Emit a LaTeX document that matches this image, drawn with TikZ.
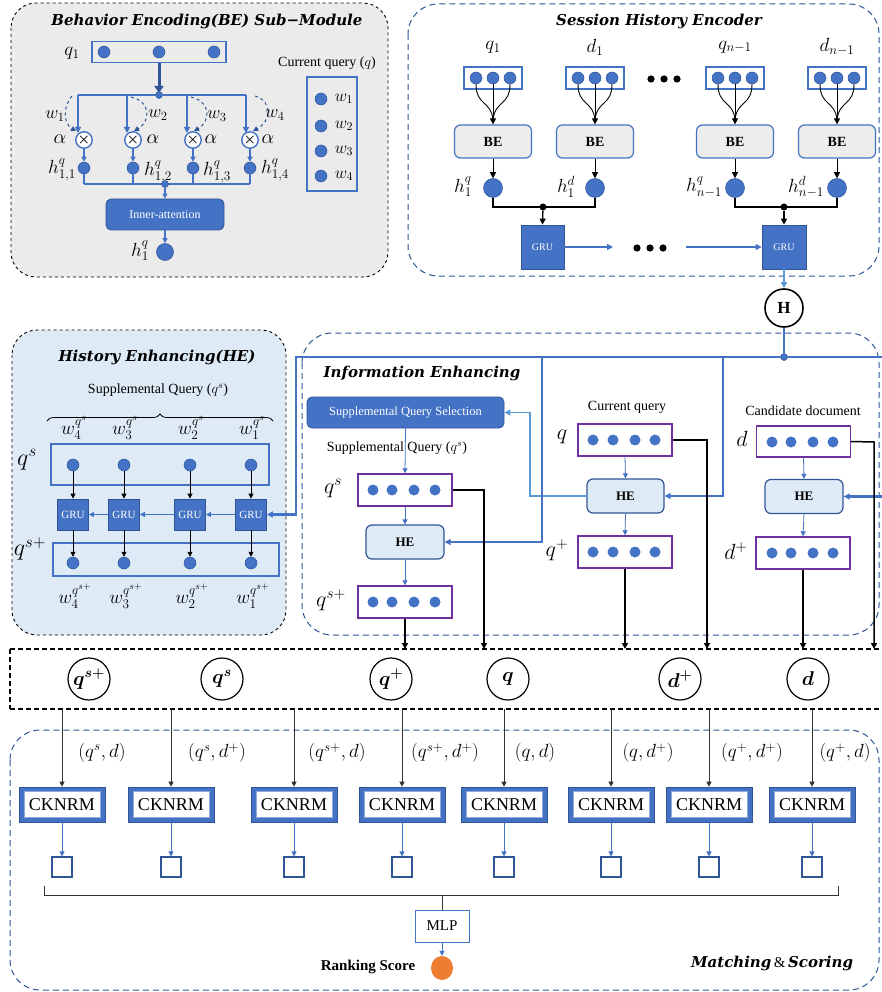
\RequirePackage{fix-cm}
\documentclass[tikz,border=0pt]{standalone}
\usepackage{amsmath,bm}
\usepackage{fontspec}
\setmainfont{Liberation Serif}
\newfontfamily\titlefont{DejaVu Serif}
\usetikzlibrary{arrows.meta,decorations.pathreplacing,shapes.geometric}
\definecolor{myblue}{HTML}{4472C4}
\definecolor{darkblue}{HTML}{2F5597}
\definecolor{lightarr}{HTML}{5B9BD5}
\definecolor{mypurple}{HTML}{7030A0}
\definecolor{bggray}{HTML}{EBEBEB}
\definecolor{helight}{HTML}{DEEBF7}
\definecolor{begray}{HTML}{EDEDED}
\definecolor{myorange}{HTML}{ED7D31}
\newcommand\fsz[1]{\fontsize{#1}{#1}\selectfont}
\tikzset{
  ttl/.style={font=\titlefont\bfseries\itshape\fsz{15}, inner sep=0pt},
  mlab/.style={font=\fsz{19}, inner sep=0pt},
  txt/.style={font=\fsz{14}, inner sep=0pt},
  bdot/.style={circle, fill=myblue, draw=darkblue, line width=0.5pt, inner sep=0pt, minimum size=#1},
  bdot/.default=12pt,
  pdot/.style={circle, fill=myblue, inner sep=0pt, minimum size=11pt},
  sdot/.style={circle, fill=myblue, draw=darkblue, line width=0.5pt, inner sep=0pt, minimum size=7pt},
  kdot/.style={circle, fill=black, inner sep=0pt, minimum size=7pt},
  arr/.style={-{Triangle[length=6pt,width=6pt]}},
  sarr/.style={-{Triangle[length=5pt,width=5pt]}},
  vbox/.style={draw=myblue, line width=1.4pt, inner sep=0pt},
  pbox/.style={draw=mypurple, line width=1.4pt, fill=white, inner sep=0pt, minimum width=94pt, minimum height=32pt},
  otimes/.style={circle, draw=myblue, fill=white, line width=1.4pt, minimum size=15pt, inner sep=0pt, font=\fsz{14}},
  fillbox/.style={fill=myblue, draw=darkblue, line width=0.8pt, text=white, inner sep=0pt},
  bebox/.style={fill=begray, draw=myblue, line width=1.2pt, rounded corners=6pt, minimum width=77pt, minimum height=33pt, font=\bfseries\fsz{14}, inner sep=0pt},
  hebox/.style={fill=helight, draw=darkblue, line width=1.2pt, rounded corners=6pt, minimum width=78pt, minimum height=34pt, font=\bfseries\fsz{13}, inner sep=0pt},
  ck/.style={fill=myblue, draw=darkblue, line width=0.6pt, minimum width=86pt, minimum height=35pt, inner sep=0pt},
  ckin/.style={fill=white, draw=myblue!60, line width=0.8pt, minimum width=76pt, minimum height=26pt, inner sep=0pt, font=\fsz{18}},
  sq/.style={draw=darkblue, line width=1.1pt, fill=white, minimum width=20pt, minimum height=20pt, inner sep=0pt},
  cir/.style={circle, draw=black, line width=1.2pt, minimum size=42pt, inner sep=0pt, font=\fsz{20}},
  bdash/.style={dashed, draw=darkblue, line width=1pt, dash pattern=on 6pt off 4pt},
}
\begin{document}
\begin{tikzpicture}[x=1pt,y=-1pt]
\useasboundingbox (0,0) rectangle (881,992);
\fill[white] (0,0) rectangle (881,992);

% ================= BE sub-module =================
\draw[black, dashed, line width=0.9pt, fill=bggray, rounded corners=25pt] (11,3) rectangle (388,277);
\node[ttl] at (207,21) {Behavior Encoding(BE) Sub−Module};
\node[vbox, minimum width=134pt, minimum height=21pt] (beq) at (159,52) {};
\foreach \x/\n in {104/a,159/b,214/c} \node[bdot] (beq\n) at (\x,52) {};
\node[mlab] at (72,53) {$q_1$};
\draw[darkblue, line width=3pt, -{Triangle[length=7pt,width=9pt]}] (beq.south) -- (159,93);
\node[sdot] (bej) at (159,95) {};
\draw[myblue, line width=1.5pt] (78,95) -- (246,95);
\foreach \cx/\ax/\i in {84/78/1,133/127/2,193/187/3,250/246/4} {
  \node[otimes] (ot\i) at (\cx,140) {$\bm{\times}$};
  \draw[myblue, line width=1.5pt, arr] (\ax,95) -- (\ax,133);
  \node[bdot] (bh\i) at (\cx,168) {};
  \draw[myblue, line width=1.3pt, sarr] (ot\i.south) -- (bh\i.north);
  \draw[myblue, line width=1.3pt] (bh\i.south) -- (\cx,184);
}
\draw[darkblue, dashed, line width=1pt, sarr] (72,96) .. controls (62,108) and (64,124) .. (76,131);
\draw[darkblue, dashed, line width=1pt, sarr] (131,97) .. controls (152,102) and (150,122) .. (134,131);
\draw[darkblue, dashed, line width=1pt, sarr] (191,97) .. controls (212,102) and (210,122) .. (194,131);
\draw[darkblue, dashed, line width=1pt, sarr] (255,96) .. controls (274,102) and (270,122) .. (253,131);
\node[mlab, font=\fsz{18}] at (55,116) {$w_1$};
\node[mlab, font=\fsz{18}] at (158,115) {$w_2$};
\node[mlab, font=\fsz{18}] at (217,116) {$w_3$};
\node[mlab, font=\fsz{18}] at (275,115) {$w_4$};
\foreach \x in {60,153,211,268} \node[mlab, font=\fsz{20}] at (\x,139) {$\alpha$};
\node[mlab] at (62,170) {$h^q_{1,1}$};
\node[mlab] at (158,172) {$h^q_{1,2}$};
\node[mlab] at (217,172) {$h^q_{1,3}$};
\node[mlab] at (275,170) {$h^q_{1,4}$};
\draw[myblue, line width=1.3pt] (84,184) -- (250,184);
\node[sdot] (bej2) at (165,184) {};
\node[fillbox, rounded corners=5pt, minimum width=118pt, minimum height=31pt, font=\fsz{12}] (ia) at (165,214.5) {Inner-attention};
\draw[myblue, line width=1.3pt, sarr] (bej2) -- (ia.north);
\node[bdot=17pt] (bh) at (165,252) {};
\draw[myblue, line width=1.3pt, sarr] (ia.south) -- (bh.north);
\node[mlab] at (140,251) {$h^q_1$};
\node[txt] at (327,63) {Current query ($q$)};
\node[vbox, minimum width=50pt, minimum height=114pt] (cq) at (332,134) {};
\foreach \y/\i in {99/1,126/2,151/3,176/4} {
  \node[bdot] at (321,\y) {};
  \node[mlab, font=\fsz{17}] at (344,\y) {$w_\i$};
}

% ================= Session History Encoder =================
\draw[bdash, rounded corners=30pt] (408,4) rectangle (879,276);
\node[ttl] at (659,21) {Session History Encoder};
\foreach \cx/\lab/\hl/\hx/\i in {493/{q_1}/{h^q_1}/463/1, 595/{d_1}/{h^d_1}/566/2, 735/{q_{n-1}}/{h^q_{n-1}}/704/3, 837/{d_{n-1}}/{h^d_{n-1}}/806/4} {
  \node[mlab] at (\cx,47) {$\lab$};
  \node[vbox, minimum width=58pt, minimum height=22pt] (sv\i) at (\cx,78) {};
  \foreach \d in {-17,0,17} \node[bdot] at (\cx+\d,78) {};
  \node[bebox] (be\i) at (\cx,141.5) {BE};
  \draw[black, line width=0.9pt] (\cx-17,84) .. controls (\cx-17,106) and (\cx-2,100) .. (\cx,120);
  \draw[black, line width=0.9pt] (\cx+17,84) .. controls (\cx+17,106) and (\cx+2,100) .. (\cx,120);
  \draw[black, line width=0.9pt, arr] (\cx,84) -- (be\i.north);
  \node[bdot=19pt] (sh\i) at (\cx,188) {};
  \draw[black, line width=0.9pt, arr] (be\i.south) -- (sh\i.north);
  \node[mlab] at (\hx,187) {$\hl$};
}
\foreach \x in {651,664,677} \fill (\x,79) circle (3.6pt);
\draw[black, line width=1.3pt] (sh1.south) -- (493,207) -- (595,207) -- (sh2.south);
\draw[black, line width=1.3pt] (sh3.south) -- (735,207) -- (837,207) -- (sh4.south);
\node[kdot] (sj1) at (543,207) {};
\node[kdot] (sj2) at (784,207) {};
\node[fillbox, minimum width=43pt, minimum height=44pt, font=\fsz{10}] (gru1) at (542.5,247) {GRU};
\node[fillbox, minimum width=44pt, minimum height=44pt, font=\fsz{10}] (gru2) at (784,247) {GRU};
\draw[black, line width=1.3pt, arr] (sj1) -- (gru1.north);
\draw[black, line width=1.3pt, arr] (sj2) -- (gru2.north);
\coordinate (ga) at (613,247);
\coordinate (gb) at (686,247);
\draw[myblue, line width=1.3pt, arr] (gru1.east) -- (ga);
\draw[myblue, line width=1.3pt, arr] (gb) -- (gru2.west);
\foreach \x in {637,650,663} \fill (\x,248) circle (3.6pt);
\node[circle, draw=black, line width=1.6pt, minimum size=38pt, inner sep=0pt, font=\bfseries\fsz{17}] (H) at (784,308) {H};
\draw[lightarr, line width=1.5pt, arr] (gru2.south) -- (H.north);

% ================= Information Enhancing =================
\draw[bdash, rounded corners=30pt] (302,333) rectangle (879,635);
\node[ttl] at (422,373) {Information Enhancing};
\node[fillbox, rounded corners=5pt, minimum width=197pt, minimum height=31pt, font=\fsz{12.5}] (sqs) at (405.5,412.5) {Supplemental Query Selection};
\node[txt] at (397,448) {Supplemental Query ($q^s$)};
% q^s column
\node[pbox] (iqs) at (405,490) {};
\foreach \x in {373,392,414,435} \node[pdot] at (\x,490) {};
\node[mlab, font=\fsz{22}] at (333,488) {$q^s$};
\node[hebox] (he1) at (405,542) {HE};
\node[pbox] (iqsp) at (405,602) {};
\foreach \x in {373,392,414,435} \node[pdot] at (\x,602) {};
\node[mlab, font=\fsz{22}] at (331,600) {$q^{s+}$};
\draw[myblue, line width=0.8pt, sarr] (sqs.south) -- (iqs.north);
\draw[myblue, line width=0.8pt, sarr] (iqs.south) -- (he1.north);
\draw[myblue, line width=0.8pt, sarr] (he1.south) -- (iqsp.north);
% current query column
\node[txt] at (627,407) {Current query};
\node[pbox] (iq) at (625,440) {};
\foreach \x in {593,613,635,655} \node[pdot] at (\x,440) {};
\node[mlab, font=\fsz{22}] at (562,437) {$q$};
\node[hebox, minimum width=77pt] (he2) at (625.5,496) {HE};
\node[pbox] (iqp) at (625,552) {};
\foreach \x in {593,613,635,655} \node[pdot] at (\x,552) {};
\node[mlab, font=\fsz{22}] at (557,550) {$q^+$};
\draw[myblue, line width=0.8pt, sarr] (iq.south) -- (he2.north);
\draw[myblue, line width=0.8pt, sarr] (he2.south) -- (iqp.north);
% candidate doc column
\node[txt] at (803,411) {Candidate document};
\node[pbox, minimum height=31pt] (id) at (803.5,441.5) {};
\foreach \x in {772,791,813,833} \node[pdot] at (\x,442) {};
\node[mlab, font=\fsz{22}] at (742,439) {$d$};
\node[hebox] (he3) at (804,496.5) {HE};
\node[pbox] (idp) at (803,553) {};
\foreach \x in {772,791,813,833} \node[pdot] at (\x,553) {};
\node[mlab, font=\fsz{22}] at (736,551) {$d^+$};
\draw[myblue, line width=0.8pt, sarr] (id.south) -- (he3.north);
\draw[myblue, line width=0.8pt, sarr] (he3.south) -- (idp.north);
% light-blue loop to selection
\draw[lightarr, line width=1.3pt, arr] (he2.west) -- (530,496) -- (530,412.5) -- (sqs.east);

% ================= History Enhancing module =================
\draw[black, dashed, line width=0.9pt, fill=helight, rounded corners=25pt] (12,330) rectangle (286,635);
\node[ttl] at (157,357) {History Enhancing(HE)};
\node[txt] at (158,390) {Supplemental Query ($q^s$)};
\draw[black, line width=0.8pt, decorate, decoration={brace, amplitude=7pt}] (47,421) -- (273,421);
\node[vbox, minimum width=218pt, minimum height=41pt] (hqs) at (160,464.5) {};
\node[vbox, minimum width=226pt, minimum height=33pt] (hqsp) at (166,559.5) {};
\node[mlab, font=\fsz{24}] at (27,460) {$q^s$};
\node[mlab, font=\fsz{24}] at (30,549) {$q^{s+}$};
\foreach \cx/\k/\i in {73/4/1,124/3/2,190/2/3,251/1/4} {
  \node[mlab, font=\fsz{19}] at (\cx+1,428) {$w_\k^{q^s}$};
  \node[mlab, font=\fsz{19}] at (\cx+2,596) {$w_\k^{q^{s+}}$};
  \node[bdot] (hd\i) at (\cx,465) {};
  \node[fillbox, minimum width=31pt, minimum height=31pt, font=\fsz{11}] (hg\i) at (\cx,514.5) {GRU};
  \node[bdot] (hdp\i) at (\cx,563) {};
  \draw[black, line width=0.8pt, sarr] (hd\i.south) -- (hg\i.north);
  \draw[black, line width=0.8pt, sarr] (hg\i.south) -- (hdp\i.north);
}
\draw[myblue, line width=1pt, sarr] (hg4.west) -- (hg3.east);
\draw[myblue, line width=1pt, sarr] (hg3.west) -- (hg2.east);
\draw[myblue, line width=1pt, sarr] (hg2.west) -- (hg1.east);

% ================= H distribution lines =================
\node[sdot] (hj) at (784,357) {};
\draw[myblue, line width=2.2pt] (H.south) -- (hj);
\draw[myblue, line width=2.2pt, arr] (hj.center) -- (296,357) -- (296,514.5) -- (hg4.east);
\draw[myblue, line width=2.2pt, arr] (542,357) -- (542,542) -- (he1.east);
\draw[myblue, line width=2.2pt, arr] (723,357) -- (723,496) -- (he2.east);
\draw[myblue, line width=2.2pt, arr] (hj.center) -- (890,357) -- (890,496.5) -- (he3.east);

% ================= collection row =================
\draw[black, line width=1.6pt, dash pattern=on 5pt off 3pt] (10,649) -- (895,649) (10,709) -- (895,709) (10,649) -- (10,709);
\foreach \x/\l/\n in {89/{q^{s+}}/c1, 222/{q^{s}}/c2, 391/{q^{+}}/c3, 508/q/c4, 680/{d^{+}}/c5, 808/d/c6}
  \node[cir] (\n) at (\x,679) {$\bm{\l}$};
\draw[black, line width=1.5pt, arr] (iqsp.south) -- (405,649);
\draw[black, line width=1.5pt, arr] (iqs.east) -- (484,490) -- (484,649);
\draw[black, line width=1.5pt, arr] (iqp.south) -- (625,649);
\draw[black, line width=1.5pt, arr] (iq.east) -- (707,440) -- (707,649);
\draw[black, line width=1.5pt, arr] (idp.south) -- (803,649);
\draw[black, line width=1.5pt, arr] (id.east) -- (874,442) -- (874,649);

% ================= Matching & Scoring =================
\draw[bdash, rounded corners=30pt] (10,730) rectangle (879,990);
\foreach \x/\lx/\lab/\i in {62/102/{(q^s,d)}/1, 171/217/{(q^s,d^+)}/2, 294/337/{(q^{s+},d)}/3, 402/445/{(q^{s+},d^+)}/4, 504/535/{(q,d)}/5, 611/648/{(q,d^+)}/6, 709/752/{(q^+,d^+\mathbf{)}}/7, 812/845/{(q^+,d)}/8} {
  \node[ck] (ck\i) at (\x,804.5) {};
  \node[ckin] at (\x,804.5) {CKNRM};
  \node[sq] (sq\i) at (\x,867) {};
  \coordinate (top\i) at (\x,709);
  \draw[black!80, line width=0.8pt, sarr] (top\i) -- (ck\i.north);
  \draw[myblue, line width=0.8pt, sarr] (ck\i.south) -- (sq\i.north);
  \node[mlab, font=\fsz{19}] at (\lx,753) {$\lab$};
}
\draw[black!80, line width=1pt] (44,886) -- (44,895) -- (838,895) -- (838,886);
\node[draw=myblue, line width=1pt, fill=white, minimum width=54pt, minimum height=32pt, inner sep=0pt, font=\fsz{15}] (mlp) at (442,926) {MLP};
\coordinate (br) at (442,895);
\draw[black!80, line width=1pt] (br) -- (mlp.north);
\node[ellipse, fill=myorange, minimum width=22pt, minimum height=24pt, inner sep=0pt] (rs) at (442,968) {};
\draw[myblue, line width=0.8pt, sarr] (mlp.south) -- (rs.north);
\node[txt, font=\bfseries\fsz{15}] at (368,967) {Ranking Score};
\node[inner sep=0pt] at (772,963) {{\titlefont\bfseries\itshape\fsz{15}Matching} {\fsz{15}\&} {\titlefont\bfseries\itshape\fsz{15}Scoring}};
\end{tikzpicture}
\end{document}
